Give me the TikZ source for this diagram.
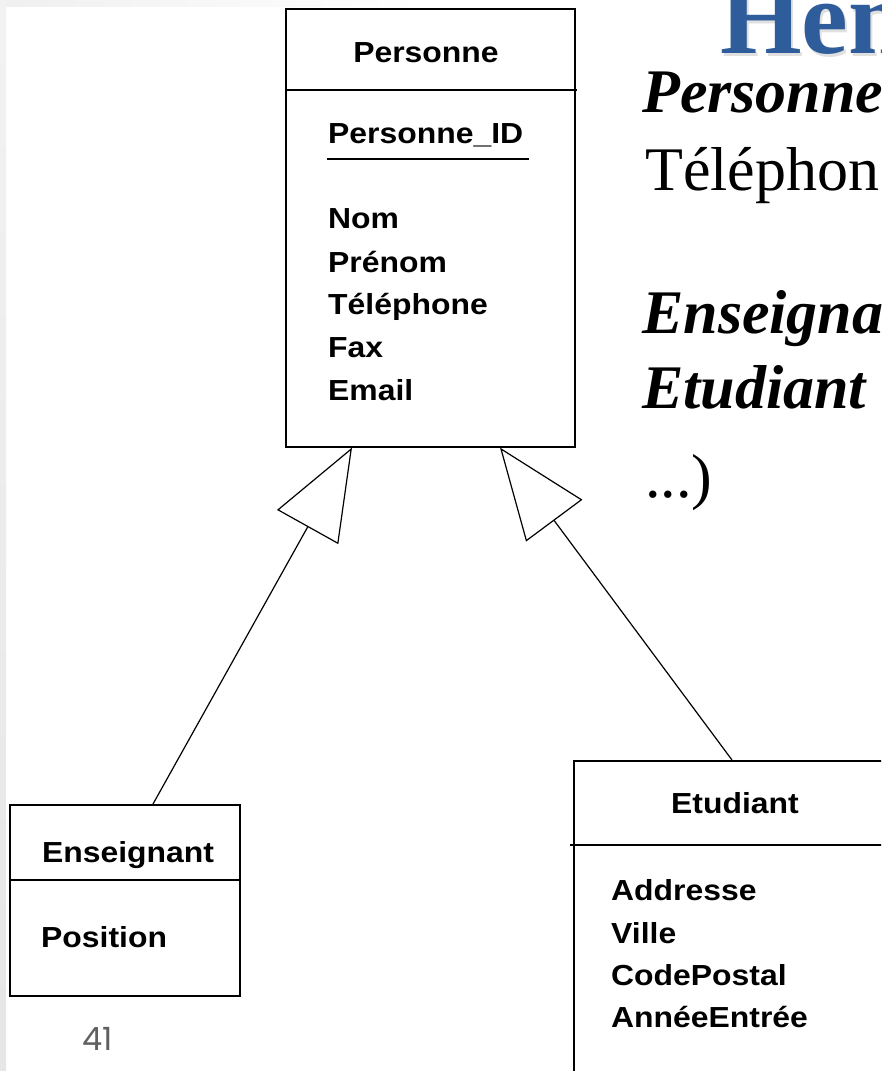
\documentclass[tikz,border=0pt]{standalone}
\usepackage{fontspec}
\setmainfont{Liberation Serif}
\newfontfamily\umlfont{Liberation Sans}[FakeStretch=1.1]
\newfontfamily\numfont{Poppins}
\usetikzlibrary{arrows.meta,calc}
\definecolor{titleblue}{HTML}{2F5C9A}
\definecolor{numgray}{HTML}{606060}

\begin{document}
\begin{tikzpicture}[x=1pt,y=-1pt,
  umlbox/.style={draw=black, line width=1.6pt, fill=white, rectangle, inner sep=0pt, anchor=north west},
  umltitle/.style={font=\umlfont\bfseries\fontsize{29}{29}\selectfont, anchor=base, inner sep=0pt},
  umlattr/.style={font=\umlfont\bfseries\fontsize{29}{29}\selectfont, anchor=base west, inner sep=0pt},
  sepline/.style={line width=1.6pt},
  inherit/.style={line width=1.2pt, -{Triangle[open, length=91pt, width=70pt]}},
  slidebold/.style={font=\bfseries\itshape\fontsize{62}{62}\selectfont, anchor=base west, inner sep=0pt},
  slideplain/.style={font=\fontsize{62}{62}\selectfont, anchor=base west, inner sep=0pt},
]
\useasboundingbox (0,0) rectangle (881,1071);
\clip (0,0) rectangle (881,1071);
\fill[white] (0,0) rectangle (881,1071);

% slide frame edges
\shade[left color=gray!12, right color=white] (0,0) rectangle (420,6);
\shade[top color=gray!10, bottom color=gray!20] (0,0) rectangle (6,1071);

% slide title (with a soft shadow) and text
\node[font=\bfseries\fontsize{105}{105}\selectfont, text=black!40, opacity=0.3, anchor=base west, inner sep=0pt] at (722,56) {Hen};
\node[font=\bfseries\fontsize{105}{105}\selectfont, text=titleblue, anchor=base west, inner sep=0pt] (title) at (720,53) {Hen};
\node[slidebold] (t1) at (642,112) {Personne};
\node[slideplain] (t2) at (645,190) {Téléphon};
\node[slidebold] (t3) at (642,333) {Enseigna};
\node[slidebold] (t4) at (642,408) {Etudiant};
\node[slideplain] (t5) at (645,497) {...)};

% class Personne
\node[umlbox, minimum width=289pt, minimum height=438pt] (pers) at (285,8) {};
\draw[sepline] (285,90) -- (577,90);
\node[umltitle] (persT) at (426,62) {Personne};
\node[umlattr] (persId) at (328,143) {Personne\_ID};
\draw[line width=1.6pt] (327,159) -- (529,159);
\node[umlattr] (a1) at (328,228) {Nom};
\node[umlattr] (a2) at (328,272) {Prénom};
\node[umlattr] (a3) at (328,314) {Téléphone};
\node[umlattr] (a4) at (328,357) {Fax};
\node[umlattr] (a5) at (328,400) {Email};

% class Enseignant
\node[umlbox, minimum width=230pt, minimum height=191pt] (ens) at (9,804) {};
\draw[sepline] (9,880) -- (239,880);
\node[umltitle] (ensT) at (128,862) {Enseignant};
\node[umlattr] (b1) at (41,947) {Position};

% class Etudiant
\node[umlbox, minimum width=400pt, minimum height=400pt] (etu) at (573,760) {};
\draw[sepline] (570,845) -- (900,845);
\node[umltitle] (etuT) at (735,813) {Etudiant};
\node[umlattr] (c1) at (611,900) {Addresse};
\node[umlattr] (c2) at (611,943) {Ville};
\node[umlattr] (c3) at (611,985) {CodePostal};
\node[umlattr] (c4) at (611,1027) {AnnéeEntrée};

% generalisation links
\draw[inherit] ($(ens.north west)+(144,0)$) -- ($(pers.south west)+(67,0)$);
\draw[inherit] ($(etu.north west)+(159,0)$) -- ($(pers.south west)+(215,0)$);

% page number
\node[font=\numfont\fontsize{32}{32}\selectfont, text=numgray, anchor=base west, inner sep=0pt] (pg) at (82,1050) {41};
\end{tikzpicture}
\end{document}
